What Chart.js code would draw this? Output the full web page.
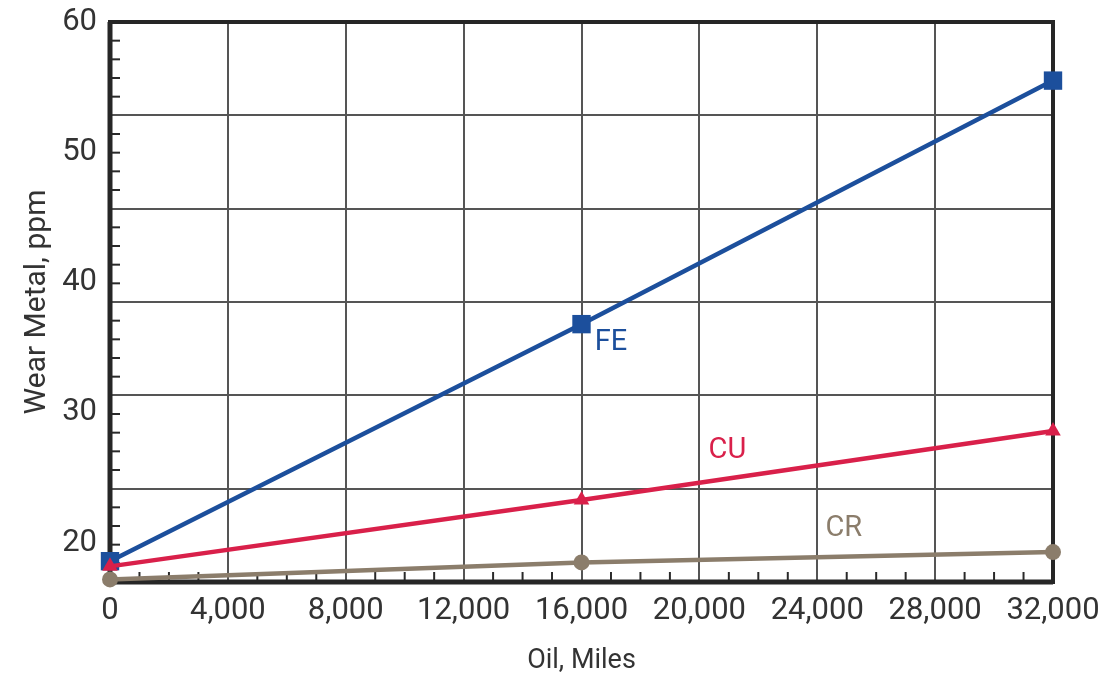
<!DOCTYPE html>
<html>
<head>
<meta charset="utf-8">
<script src="https://cdn.jsdelivr.net/npm/chart.js@4/dist/chart.umd.min.js"></script>
<style>
  html, body { margin: 0; padding: 0; background: #fff; }
  #wrap { width: 1100px; height: 685px; }
</style>
</head>
<body>
<div id="wrap"><canvas id="myChart"></canvas></div>
<script>
// data
const miles = [0, 16000, 32000];
const fe = [18.6, 36.8, 55.5];
const cu = [18.2, 23.3, 28.6];
const cr = [17.2, 18.5, 19.3];
const xTicks = [0, 4000, 8000, 12000, 16000, 20000, 24000, 28000, 32000];
const yTicks = [20, 30, 40, 50, 60];
const seriesNames = ['FE', 'CU', 'CR'];
// where the series names sit (data units)
const nameX = [17000, 20950, 24900];
const nameY = [35.4, 27.1, 21.1];

const FONT = "'Roboto', sans-serif";
const colors = ['#1c4f9c', '#d9204a', '#8b7d6b'];

const toPts = arr => arr.map((v, i) => ({ x: miles[i], y: v }));

// frame, minor ticks and series names
const decor = {
  id: 'decor',
  beforeDatasetsDraw(chart) {
    const { ctx, chartArea: a, scales } = chart;
    ctx.save();
    ctx.strokeStyle = '#2a2a2a';
    ctx.lineWidth = 2;
    // x minor ticks every 1000
    for (let v = 1000; v < 32000; v += 1000) {
      if (v % 4000 === 0) continue;
      const px = scales.x.getPixelForValue(v);
      ctx.beginPath();
      ctx.moveTo(px, a.bottom);
      ctx.lineTo(px, a.bottom - 10);
      ctx.stroke();
    }
    // y minor ticks: five per grid band
    for (let k = 1; k < 30; k++) {
      if (k % 5 === 0) continue;
      const py = scales.y2.getPixelForValue(k / 5);
      ctx.beginPath();
      ctx.moveTo(a.left, py);
      ctx.lineTo(a.left + 10, py);
      ctx.stroke();
    }
    // frame
    ctx.strokeStyle = '#262626';
    ctx.lineWidth = 4;
    ctx.strokeRect(a.left, a.top, a.right - a.left, a.bottom - a.top);
    ctx.lineWidth = 5;
    ctx.beginPath();
    ctx.moveTo(a.left, a.top);
    ctx.lineTo(a.left, a.bottom);
    ctx.lineTo(a.right, a.bottom);
    ctx.stroke();
    ctx.restore();
  },
  afterDatasetsDraw(chart) {
    const { ctx, scales } = chart;
    ctx.save();
    ctx.font = '29px ' + FONT;
    ctx.textAlign = 'center';
    ctx.textBaseline = 'middle';
    seriesNames.forEach((n, i) => {
      ctx.fillStyle = colors[i];
      ctx.fillText(n, scales.x.getPixelForValue(nameX[i]), scales.y.getPixelForValue(nameY[i]));
    });
    ctx.restore();
  }
};

const ctx = document.getElementById('myChart');

new Chart(ctx, {
  type: 'line',
  data: {
    datasets: [
      {
        label: 'FE',
        data: toPts(fe),
        borderColor: colors[0],
        backgroundColor: colors[0],
        borderWidth: 4.5,
        pointStyle: 'rect',
        pointRadius: 13,
        pointBorderWidth: 0,
        yAxisID: 'y'
      },
      {
        label: 'CU',
        data: toPts(cu),
        borderColor: colors[1],
        backgroundColor: colors[1],
        borderWidth: 4.5,
        pointStyle: 'triangle',
        pointRadius: 9,
        pointBorderWidth: 0,
        yAxisID: 'y'
      },
      {
        label: 'CR',
        data: toPts(cr),
        borderColor: colors[2],
        backgroundColor: colors[2],
        borderWidth: 4.5,
        pointStyle: 'circle',
        pointRadius: 8,
        pointBorderWidth: 0,
        yAxisID: 'y'
      }
    ].reverse()
  },
  options: {
    responsive: true,
    maintainAspectRatio: false,
    animation: false,
    clip: false,
    layout: { padding: { top: 22, right: 47, left: 0, bottom: 0 } },
    plugins: {
      legend: { display: false },
      tooltip: { enabled: false }
    },
    scales: {
      x: {
        type: 'linear',
        min: 0,
        max: 32000,
        afterBuildTicks: s => { s.ticks = xTicks.map(v => ({ value: v })); },
        afterFit: s => { s.height = 103; s.paddingLeft = 0; s.paddingRight = 0; },
        grid: { color: '#555', lineWidth: 2, drawTicks: false },
        border: { display: false },
        ticks: {
          padding: 11,
          maxRotation: 0,
          color: '#333',
          font: { family: FONT, size: 31 },
          callback: v => v.toLocaleString('en-US')
        },
        title: {
          display: true,
          text: 'Oil, Miles',
          color: '#333',
          font: { family: FONT, size: 27 },
          padding: { top: 0, bottom: 8 }
        }
      },
      y: {
        min: 17,
        max: 60,
        position: 'left',
        afterBuildTicks: s => { s.ticks = yTicks.map(v => ({ value: v })); },
        afterFit: s => { s.width = 110; s.paddingTop = 0; s.paddingBottom = 0; },
        grid: { drawOnChartArea: false, drawTicks: false },
        border: { display: false },
        ticks: {
          padding: 13,
          color: '#333',
          font: { family: FONT, size: 31 }
        },
        title: {
          display: true,
          text: 'Wear Metal, ppm',
          color: '#333',
          font: { family: FONT, size: 30 },
          padding: { top: 19, bottom: 0 }
        }
      },
      y2: {
        min: 0,
        max: 6,
        position: 'right',
        afterBuildTicks: s => { s.ticks = [1, 2, 3, 4, 5].map(v => ({ value: v })); },
        afterFit: s => { s.width = 0; s.paddingTop = 0; s.paddingBottom = 0; },
        grid: { color: '#555', lineWidth: 2, drawTicks: false },
        border: { display: false },
        ticks: { display: false }
      }
    }
  },
  plugins: [decor]
});
</script>
</body>
</html>
